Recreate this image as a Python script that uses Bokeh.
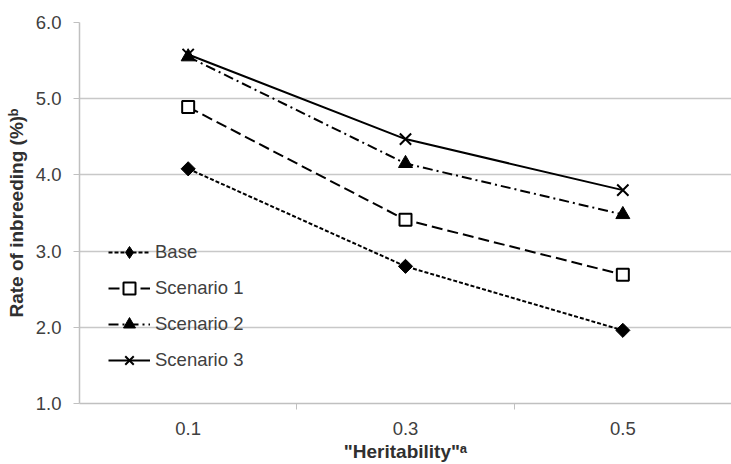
import math
from bokeh.plotting import figure
from bokeh.models import Range1d, FixedTicker, Legend, LegendItem
from bokeh.embed import file_html
from bokeh.resources import INLINE

categories = ["0.1", "0.3", "0.5"]
base = [4.08, 2.80, 1.96]
scenario1 = [4.89, 3.41, 2.69]
scenario2 = [5.55, 4.15, 3.48]
scenario3 = [5.58, 4.47, 3.80]
y_ticks = [1.0, 2.0, 3.0, 4.0, 5.0, 6.0]

xpos = [i + 0.5 for i in range(len(categories))]

FONT = "Liberation Sans"
TICK_FS = "18.5px"
TITLE_FS = "19px"
p = figure(width=731, height=464, output_backend="svg", toolbar_location=None,
           x_range=Range1d(0, len(categories)), y_range=Range1d(1, 6),
           min_border_left=79, min_border_right=0, min_border_top=22, min_border_bottom=61)
p.outline_line_color = None
p.background_fill_color = "white"
p.border_fill_color = "white"

# grid
p.xgrid.grid_line_color = None
p.ygrid.grid_line_color = "#c8c8c8"
p.ygrid.grid_line_width = 1.5
p.yaxis.ticker = FixedTicker(ticks=y_ticks)
p.ygrid.ticker = FixedTicker(ticks=y_ticks)

# y axis
p.yaxis.axis_line_color = "#c0c0c0"
p.yaxis.axis_line_width = 1.5
p.yaxis.major_tick_line_color = "#c0c0c0"
p.yaxis.major_tick_out = 6
p.yaxis.major_tick_in = 0
p.yaxis.minor_tick_line_color = None
p.yaxis.major_label_text_font = FONT
p.yaxis.major_label_text_font_size = TICK_FS
p.yaxis.major_label_text_color = "#404040"
p.yaxis.major_label_standoff = 12
p.yaxis.major_label_overrides = {t: f"{t:.1f}" for t in y_ticks}
p.yaxis.axis_label = "Rate of inbreeding (%)\u1d47"
p.yaxis.axis_label_text_font = FONT
p.yaxis.axis_label_text_font_size = TITLE_FS
p.yaxis.axis_label_text_font_style = "bold"
p.yaxis.axis_label_text_color = "#303030"
p.yaxis.axis_label_standoff = 6

# x axis
p.xaxis.ticker = FixedTicker(ticks=xpos, minor_ticks=[float(i) for i in range(1, len(categories))])
p.xaxis.major_label_overrides = {x: c for x, c in zip(xpos, categories)}
p.xaxis.axis_line_color = "#c0c0c0"
p.xaxis.axis_line_width = 1.5
p.xaxis.major_tick_line_color = None
p.xaxis.minor_tick_line_color = "#c0c0c0"
p.xaxis.minor_tick_out = 6
p.xaxis.minor_tick_in = 0
p.xaxis.major_label_text_font = FONT
p.xaxis.major_label_text_font_size = TICK_FS
p.xaxis.major_label_text_color = "#404040"
p.xaxis.major_label_standoff = 12
p.xaxis.axis_label = "\"Heritability\"\u1d43"
p.xaxis.axis_label_text_font = FONT
p.xaxis.axis_label_text_font_size = TITLE_FS
p.xaxis.axis_label_text_font_style = "bold"
p.xaxis.axis_label_text_color = "#303030"
p.xaxis.axis_label_standoff = 3

items = []
l0 = p.line(xpos, base, line_color="black", line_width=2, line_dash="4 2")
m0_legend = p.scatter(xpos, base, marker="diamond", size=9, fill_color="black", line_color="black")
m0 = p.scatter(xpos, base, marker="square", angle=math.pi / 4, size=10, fill_color="black", line_color="black")
items.append(LegendItem(label="Base", renderers=[l0, m0_legend]))

l1 = p.line(xpos, scenario1, line_color="black", line_width=2, line_dash="11 5")
m1 = p.scatter(xpos, scenario1, marker="square", size=12, fill_color="white", line_color="black", line_width=2)
items.append(LegendItem(label="Scenario 1", renderers=[l1, m1]))

l2 = p.line(xpos, scenario2, line_color="black", line_width=2, line_dash="10 4 2 4")
m2 = p.scatter(xpos, scenario2, marker="triangle", size=14, fill_color="black", line_color="black")
items.append(LegendItem(label="Scenario 2", renderers=[l2, m2]))

l3 = p.line(xpos, scenario3, line_color="black", line_width=2)
m3 = p.scatter(xpos, scenario3, marker="x", size=16, line_color="black", line_width=2)
items.append(LegendItem(label="Scenario 3", renderers=[l3, m3]))

legend = Legend(items=items, location=(29, 28), border_line_color=None,
                background_fill_alpha=0, padding=0, margin=0, spacing=6,
                glyph_width=42, glyph_height=30, label_height=30,
                label_text_font=FONT, label_text_font_size=TICK_FS,
                label_text_color="#404040", label_standoff=5)
p.add_layout(legend, "center")

open("out.html", "w").write(file_html(p, INLINE))
